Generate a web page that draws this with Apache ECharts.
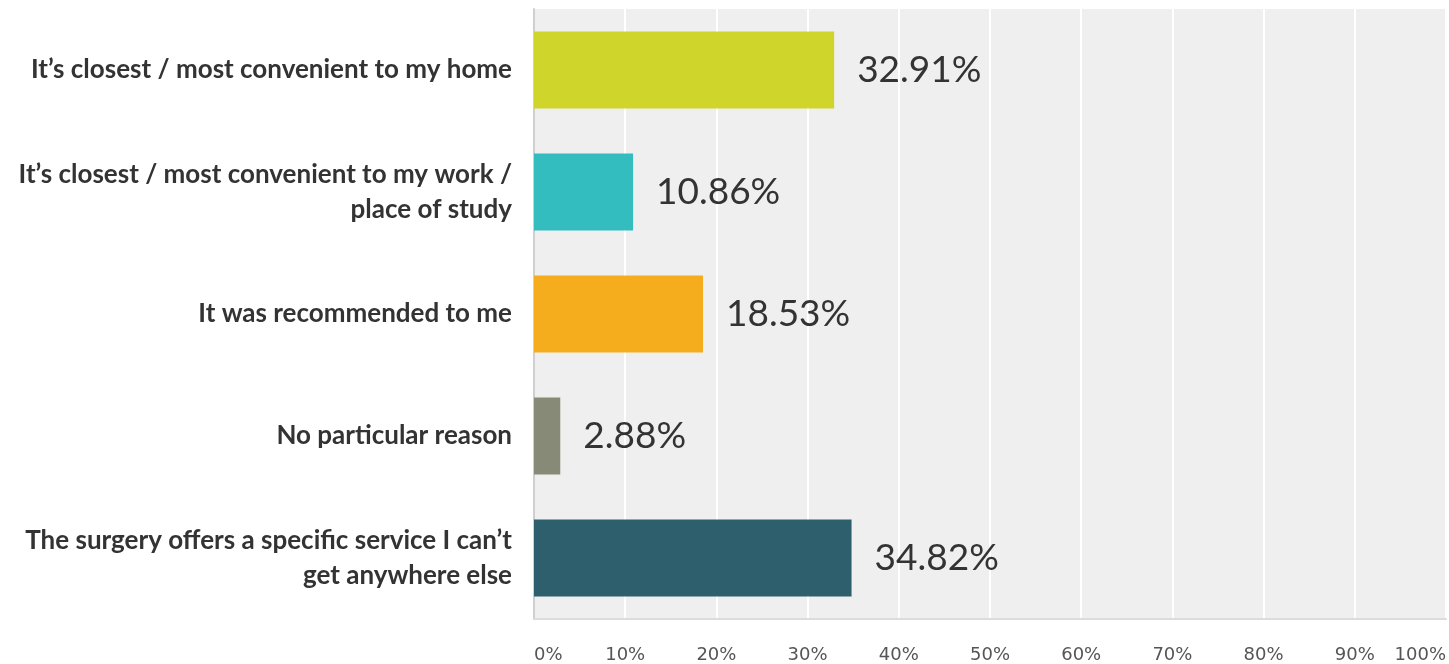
<!DOCTYPE html>
<html>
<head>
<meta charset="utf-8">
<script src="https://cdn.jsdelivr.net/npm/echarts@6/dist/echarts.min.js"></script>
<style>
  html, body { margin: 0; padding: 0; background: #fff; }
  #chart { width: 1449px; height: 664px; }
</style>
</head>
<body>
<div id="chart"></div>
<script>
// answers, top to bottom
const reasons = [
  'It’s closest / most convenient to my home',
  'It’s closest / most convenient to my work /\nplace of study',
  'It was recommended to me',
  'No particular reason',
  'The surgery offers a specific service I can’t\nget anywhere else'
];
const shares = [32.91, 10.86, 18.53, 2.88, 34.82];
const barColors = ['#cfd52a', '#34bdbf', '#f5ad1e', '#878a76', '#2e5f6d'];

const chart = echarts.init(document.getElementById('chart'));
chart.setOption({
  animation: false,
  grid: {
    left: 534, right: 3, top: 9, bottom: 45,
    show: true, backgroundColor: '#efefef', borderWidth: 0
  },
  xAxis: {
    type: 'value',
    min: 0, max: 100, interval: 10,
    splitLine: { show: true, lineStyle: { color: '#ffffff', width: 2 } },
    axisLine: { show: true, lineStyle: { color: '#dcdcdc', width: 2 } },
    axisTick: { show: false },
    axisLabel: {
      margin: 27,
      fontFamily: 'DejaVu Sans',
      fontSize: 18,
      color: '#555',
      alignMinLabel: 'left',
      alignMaxLabel: 'right',
      formatter: v => v + '%'
    }
  },
  yAxis: {
    type: 'category',
    inverse: true,
    data: reasons,
    axisLine: { show: true, lineStyle: { color: '#cfcfcf', width: 2 } },
    axisTick: { show: false },
    splitLine: { show: false },
    axisLabel: {
      margin: 22,
      fontFamily: 'Lato',
      fontWeight: 'bold',
      fontSize: 26,
      lineHeight: 35,
      color: '#333',
      align: 'right'
    }
  },
  series: [{
    type: 'bar',
    data: shares.map((v, i) => ({ value: v, itemStyle: { color: barColors[i] } })),
    barCategoryGap: '37%',
    label: {
      show: true,
      position: 'right',
      distance: 23,
      fontFamily: 'Lato',
      fontSize: 37,
      color: '#333',
      formatter: p => p.value.toFixed(2) + '%'
    }
  }]
});
</script>
</body>
</html>
